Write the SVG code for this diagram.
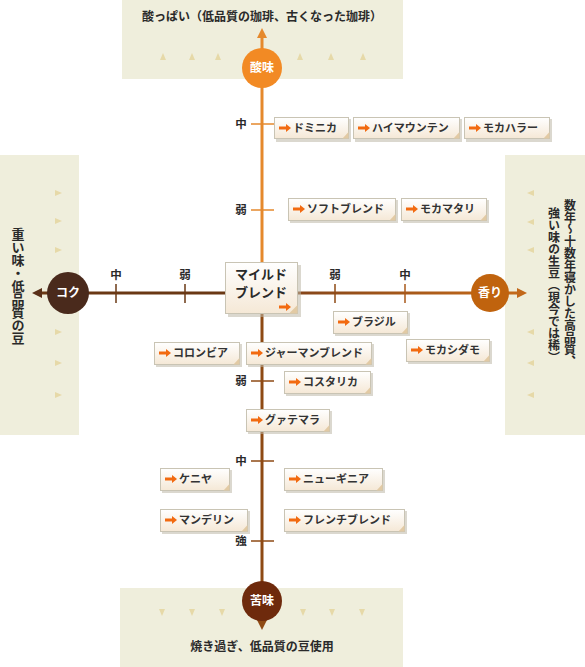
<svg xmlns="http://www.w3.org/2000/svg" width="585" height="667" viewBox="0 0 585 667">
<defs>
<style>
.panel{fill:#efeedc}
.mk{fill:#e6d9a8}
.t{font-family:"Noto Sans CJK JP","Noto Sans",sans-serif;font-weight:bold;fill:#2a2a2a}
.ptxt{font-size:12px}
.vt{font-size:12px;writing-mode:vertical-rl}
.tick{font-size:11.5px;text-anchor:middle}
.lbl{font-size:11px;fill:#333}
.clbl{font-family:"Noto Sans CJK JP","Noto Sans",sans-serif;font-weight:bold;font-size:12px;fill:#fff;text-anchor:middle}
.box{fill:url(#bg);stroke:#c9c4b4;stroke-width:1}
.sh{fill:#bdb8a8;opacity:0.55}
.fold{fill:#e2caa4}
.arr{fill:#f26a10}
</style>
<linearGradient id="bg" x1="0" y1="0" x2="0" y2="1">
<stop offset="0" stop-color="#ffffff"/>
<stop offset="1" stop-color="#f5e8d6"/>
</linearGradient>
<linearGradient id="hr" gradientUnits="userSpaceOnUse" x1="298" y1="0" x2="500" y2="0">
<stop offset="0" stop-color="#86461a"/>
<stop offset="1" stop-color="#c2681a"/>
</linearGradient>
<path id="ar" d="M0,-1.6 H7 V-4 L12,0 L7,4 V1.6 H0 Z"/>
</defs>

<!-- panels -->
<g id="panel-top">
<rect class="panel" x="122" y="0" width="281" height="79"/>
<text class="t ptxt" x="262" y="21" text-anchor="middle">酸っぱい（低品質の珈琲、古くなった珈琲）</text>
<g class="mk">
<path d="M160,60 l3,-7 l3,7z"/><path d="M189,60 l3,-7 l3,7z"/><path d="M215,60 l3,-7 l3,7z"/>
<path d="M297,60 l3,-7 l3,7z"/><path d="M328,60 l3,-7 l3,7z"/><path d="M360,60 l3,-7 l3,7z"/>
</g>
</g>
<g id="panel-left">
<rect class="panel" x="0" y="155" width="79" height="280"/>
<text class="t vt" x="18" y="228" style="font-size:13px">重い味・低品質の豆</text>
<g class="mk">
<path d="M55,190 l7,3 l-7,3z"/><path d="M55,218 l7,3 l-7,3z"/><path d="M55,247 l7,3 l-7,3z"/>
<path d="M55,329 l7,3 l-7,3z"/><path d="M55,360 l7,3 l-7,3z"/><path d="M55,392 l7,3 l-7,3z"/>
</g>
</g>
<g id="panel-right">
<rect class="panel" x="505" y="155" width="80" height="280"/>
<text class="t vt" x="570" y="199">数年～十数年寝かした高品質、</text>
<text class="t vt" x="554" y="207">強い味の生豆（現今では稀）</text>
<g class="mk">
<path d="M534,190 l-7,3 l7,3z"/><path d="M534,219 l-7,3 l7,3z"/><path d="M534,247 l-7,3 l7,3z"/>
<path d="M534,329 l-7,3 l7,3z"/><path d="M534,360 l-7,3 l7,3z"/><path d="M534,392 l-7,3 l7,3z"/>
</g>
</g>
<g id="panel-bottom">
<rect class="panel" x="120" y="588" width="283" height="79"/>
<text class="t ptxt" x="262" y="651" text-anchor="middle">焼き過ぎ、低品質の豆使用</text>
<g class="mk">
<path d="M159,609 l3,7 l3,-7z"/><path d="M189,609 l3,7 l3,-7z"/><path d="M219,609 l3,7 l3,-7z"/>
<path d="M300,609 l3,7 l3,-7z"/><path d="M329,609 l3,7 l3,-7z"/><path d="M359,609 l3,7 l3,-7z"/>
</g>
</g>

<!-- connectors / axes -->
<g id="axes">
<line x1="262" y1="36" x2="262" y2="262" stroke="#e5892c" stroke-width="3"/>
<line x1="262" y1="262" x2="262" y2="622" stroke="#8e4a14" stroke-width="3"/>
<path d="M257,38 L262,28 L267,38 Z" fill="#e5892c"/>
<path d="M257,620 L262,630 L267,620 Z" fill="#8e4a14"/>
<line x1="40" y1="293" x2="228" y2="293" stroke="#6a3814" stroke-width="3"/>
<path d="M42,288 L32,293 L42,298 Z" fill="#5a3018"/>
<line x1="298" y1="293" x2="519" y2="293" stroke="url(#hr)" stroke-width="3"/>
<path d="M517,288 L527,293 L517,298 Z" fill="#c2681a"/>
<g stroke-width="1.5">
<line x1="251" y1="124" x2="274" y2="124" stroke="#e5892c"/>
<line x1="251" y1="210" x2="274" y2="210" stroke="#e5892c"/>
<line x1="251" y1="381" x2="274" y2="381" stroke="#8e4a14"/>
<line x1="251" y1="461" x2="274" y2="461" stroke="#8e4a14"/>
<line x1="251" y1="541" x2="274" y2="541" stroke="#8e4a14"/>
<line x1="116" y1="284" x2="116" y2="303" stroke="#6a3814"/>
<line x1="185" y1="284" x2="185" y2="303" stroke="#6a3814"/>
<line x1="335" y1="284" x2="335" y2="303" stroke="#8e4a14"/>
<line x1="405" y1="284" x2="405" y2="303" stroke="#a8581a"/>
</g>
<g class="t tick">
<text x="241" y="128">中</text>
<text x="241" y="214">弱</text>
<text x="241" y="385">弱</text>
<text x="241" y="465">中</text>
<text x="241" y="545">強</text>
<text x="116" y="279">中</text>
<text x="185" y="279">弱</text>
<text x="335" y="279">弱</text>
<text x="405" y="279">中</text>
</g>
</g>

<!-- circles -->
<g id="node-sanmi"><circle cx="262" cy="68" r="20" fill="#f28a24"/><text class="clbl" x="262" y="72">酸味</text></g>
<g id="node-koku"><circle cx="68" cy="293" r="21" fill="#4a2a1c"/><text class="clbl" x="68" y="297">コク</text></g>
<g id="node-kaori"><circle cx="490" cy="293" r="19" fill="#c0630e"/><text class="clbl" x="490" y="297">香り</text></g>
<g id="node-nigami"><circle cx="262" cy="601" r="20" fill="#6e2a0c"/><text class="clbl" x="262" y="605">苦味</text></g>

<!-- mild blend -->
<g id="node-mild">
<rect class="sh" x="228" y="265" width="73" height="52"/>
<rect class="box" x="225.5" y="262.5" width="72" height="51"/>
<path class="fold" d="M297.5,305 L289,313.5 L297.5,313.5 Z"/>
<text class="t" x="261" y="279" text-anchor="middle" font-size="13">マイルド</text>
<text class="t" x="261" y="297" text-anchor="middle" font-size="13">ブレンド</text>
<use href="#ar" x="279" y="307" class="arr"/>
</g>

<!-- bean boxes -->
<g id="node-dominica"><rect class="sh" x="276" y="119" width="75" height="23"/><rect class="box" x="274.5" y="117.5" width="74" height="21"/><path class="fold" d="M348.5,132 l-6,6.5 h6z"/><use href="#ar" x="279" y="128" class="arr"/><text class="t lbl" x="293" y="132">ドミニカ</text></g>
<g id="node-highmountain"><rect class="sh" x="355" y="119" width="107" height="23"/><rect class="box" x="353.5" y="117.5" width="106" height="21"/><path class="fold" d="M459.5,132 l-6,6.5 h6z"/><use href="#ar" x="358" y="128" class="arr"/><text class="t lbl" x="372" y="132">ハイマウンテン</text></g>
<g id="node-mochaharrar"><rect class="sh" x="466" y="119" width="86" height="23"/><rect class="box" x="464.5" y="117.5" width="85" height="21"/><path class="fold" d="M549.5,132 l-6,6.5 h6z"/><use href="#ar" x="469" y="128" class="arr"/><text class="t lbl" x="483" y="132">モカハラー</text></g>
<g id="node-softblend"><rect class="sh" x="290" y="200" width="108" height="23"/><rect class="box" x="288.5" y="198.5" width="107" height="22"/><path class="fold" d="M395.5,214 l-6,6.5 h6z"/><use href="#ar" x="293" y="209" class="arr"/><text class="t lbl" x="307" y="213">ソフトブレンド</text></g>
<g id="node-mochamattari"><rect class="sh" x="403" y="200" width="86" height="23"/><rect class="box" x="401.5" y="198.5" width="85" height="22"/><path class="fold" d="M486.5,214 l-6,6.5 h6z"/><use href="#ar" x="406" y="209" class="arr"/><text class="t lbl" x="420" y="213">モカマタリ</text></g>
<g id="node-brazil"><rect class="sh" x="335" y="313" width="75" height="23"/><rect class="box" x="333.5" y="311.5" width="74" height="22"/><path class="fold" d="M407.5,327 l-6,6.5 h6z"/><use href="#ar" x="338" y="322" class="arr"/><text class="t lbl" x="352" y="326">ブラジル</text></g>
<g id="node-mochasidamo"><rect class="sh" x="408" y="341" width="84" height="23"/><rect class="box" x="406.5" y="339.5" width="83" height="22"/><path class="fold" d="M489.5,355 l-6,6.5 h6z"/><use href="#ar" x="411" y="350" class="arr"/><text class="t lbl" x="425" y="354">モカシダモ</text></g>
<g id="node-colombia"><rect class="sh" x="156" y="344" width="86" height="23"/><rect class="box" x="154.5" y="342.5" width="85" height="22"/><path class="fold" d="M239.5,358 l-6,6.5 h6z"/><use href="#ar" x="159" y="353" class="arr"/><text class="t lbl" x="173" y="357">コロンビア</text></g>
<g id="node-germanblend"><rect class="sh" x="248" y="344" width="126" height="23"/><rect class="box" x="246.5" y="342.5" width="125" height="22"/><path class="fold" d="M371.5,358 l-6,6.5 h6z"/><use href="#ar" x="251" y="353" class="arr"/><text class="t lbl" x="265" y="357">ジャーマンブレンド</text></g>
<g id="node-costarica"><rect class="sh" x="286" y="373" width="87" height="23"/><rect class="box" x="284.5" y="371.5" width="86" height="22"/><path class="fold" d="M370.5,387 l-6,6.5 h6z"/><use href="#ar" x="289" y="382" class="arr"/><text class="t lbl" x="303" y="386">コスタリカ</text></g>
<g id="node-guatemala"><rect class="sh" x="248" y="411" width="84" height="23"/><rect class="box" x="246.5" y="409.5" width="83" height="22"/><path class="fold" d="M329.5,425 l-6,6.5 h6z"/><use href="#ar" x="251" y="420" class="arr"/><text class="t lbl" x="265" y="424">グァテマラ</text></g>
<g id="node-kenya"><rect class="sh" x="162" y="470" width="70" height="23"/><rect class="box" x="160.5" y="468.5" width="69" height="22"/><path class="fold" d="M229.5,484 l-6,6.5 h6z"/><use href="#ar" x="165" y="479" class="arr"/><text class="t lbl" x="179" y="483">ケニヤ</text></g>
<g id="node-newguinea"><rect class="sh" x="286" y="470" width="99" height="23"/><rect class="box" x="284.5" y="468.5" width="98" height="22"/><path class="fold" d="M382.5,484 l-6,6.5 h6z"/><use href="#ar" x="289" y="479" class="arr"/><text class="t lbl" x="303" y="483">ニューギニア</text></g>
<g id="node-mandheling"><rect class="sh" x="162" y="511" width="88" height="23"/><rect class="box" x="160.5" y="509.5" width="87" height="22"/><path class="fold" d="M247.5,525 l-6,6.5 h6z"/><use href="#ar" x="165" y="520" class="arr"/><text class="t lbl" x="179" y="524">マンデリン</text></g>
<g id="node-frenchblend"><rect class="sh" x="286" y="511" width="121" height="23"/><rect class="box" x="284.5" y="509.5" width="120" height="22"/><path class="fold" d="M404.5,525 l-6,6.5 h6z"/><use href="#ar" x="289" y="520" class="arr"/><text class="t lbl" x="303" y="524">フレンチブレンド</text></g>
</svg>
